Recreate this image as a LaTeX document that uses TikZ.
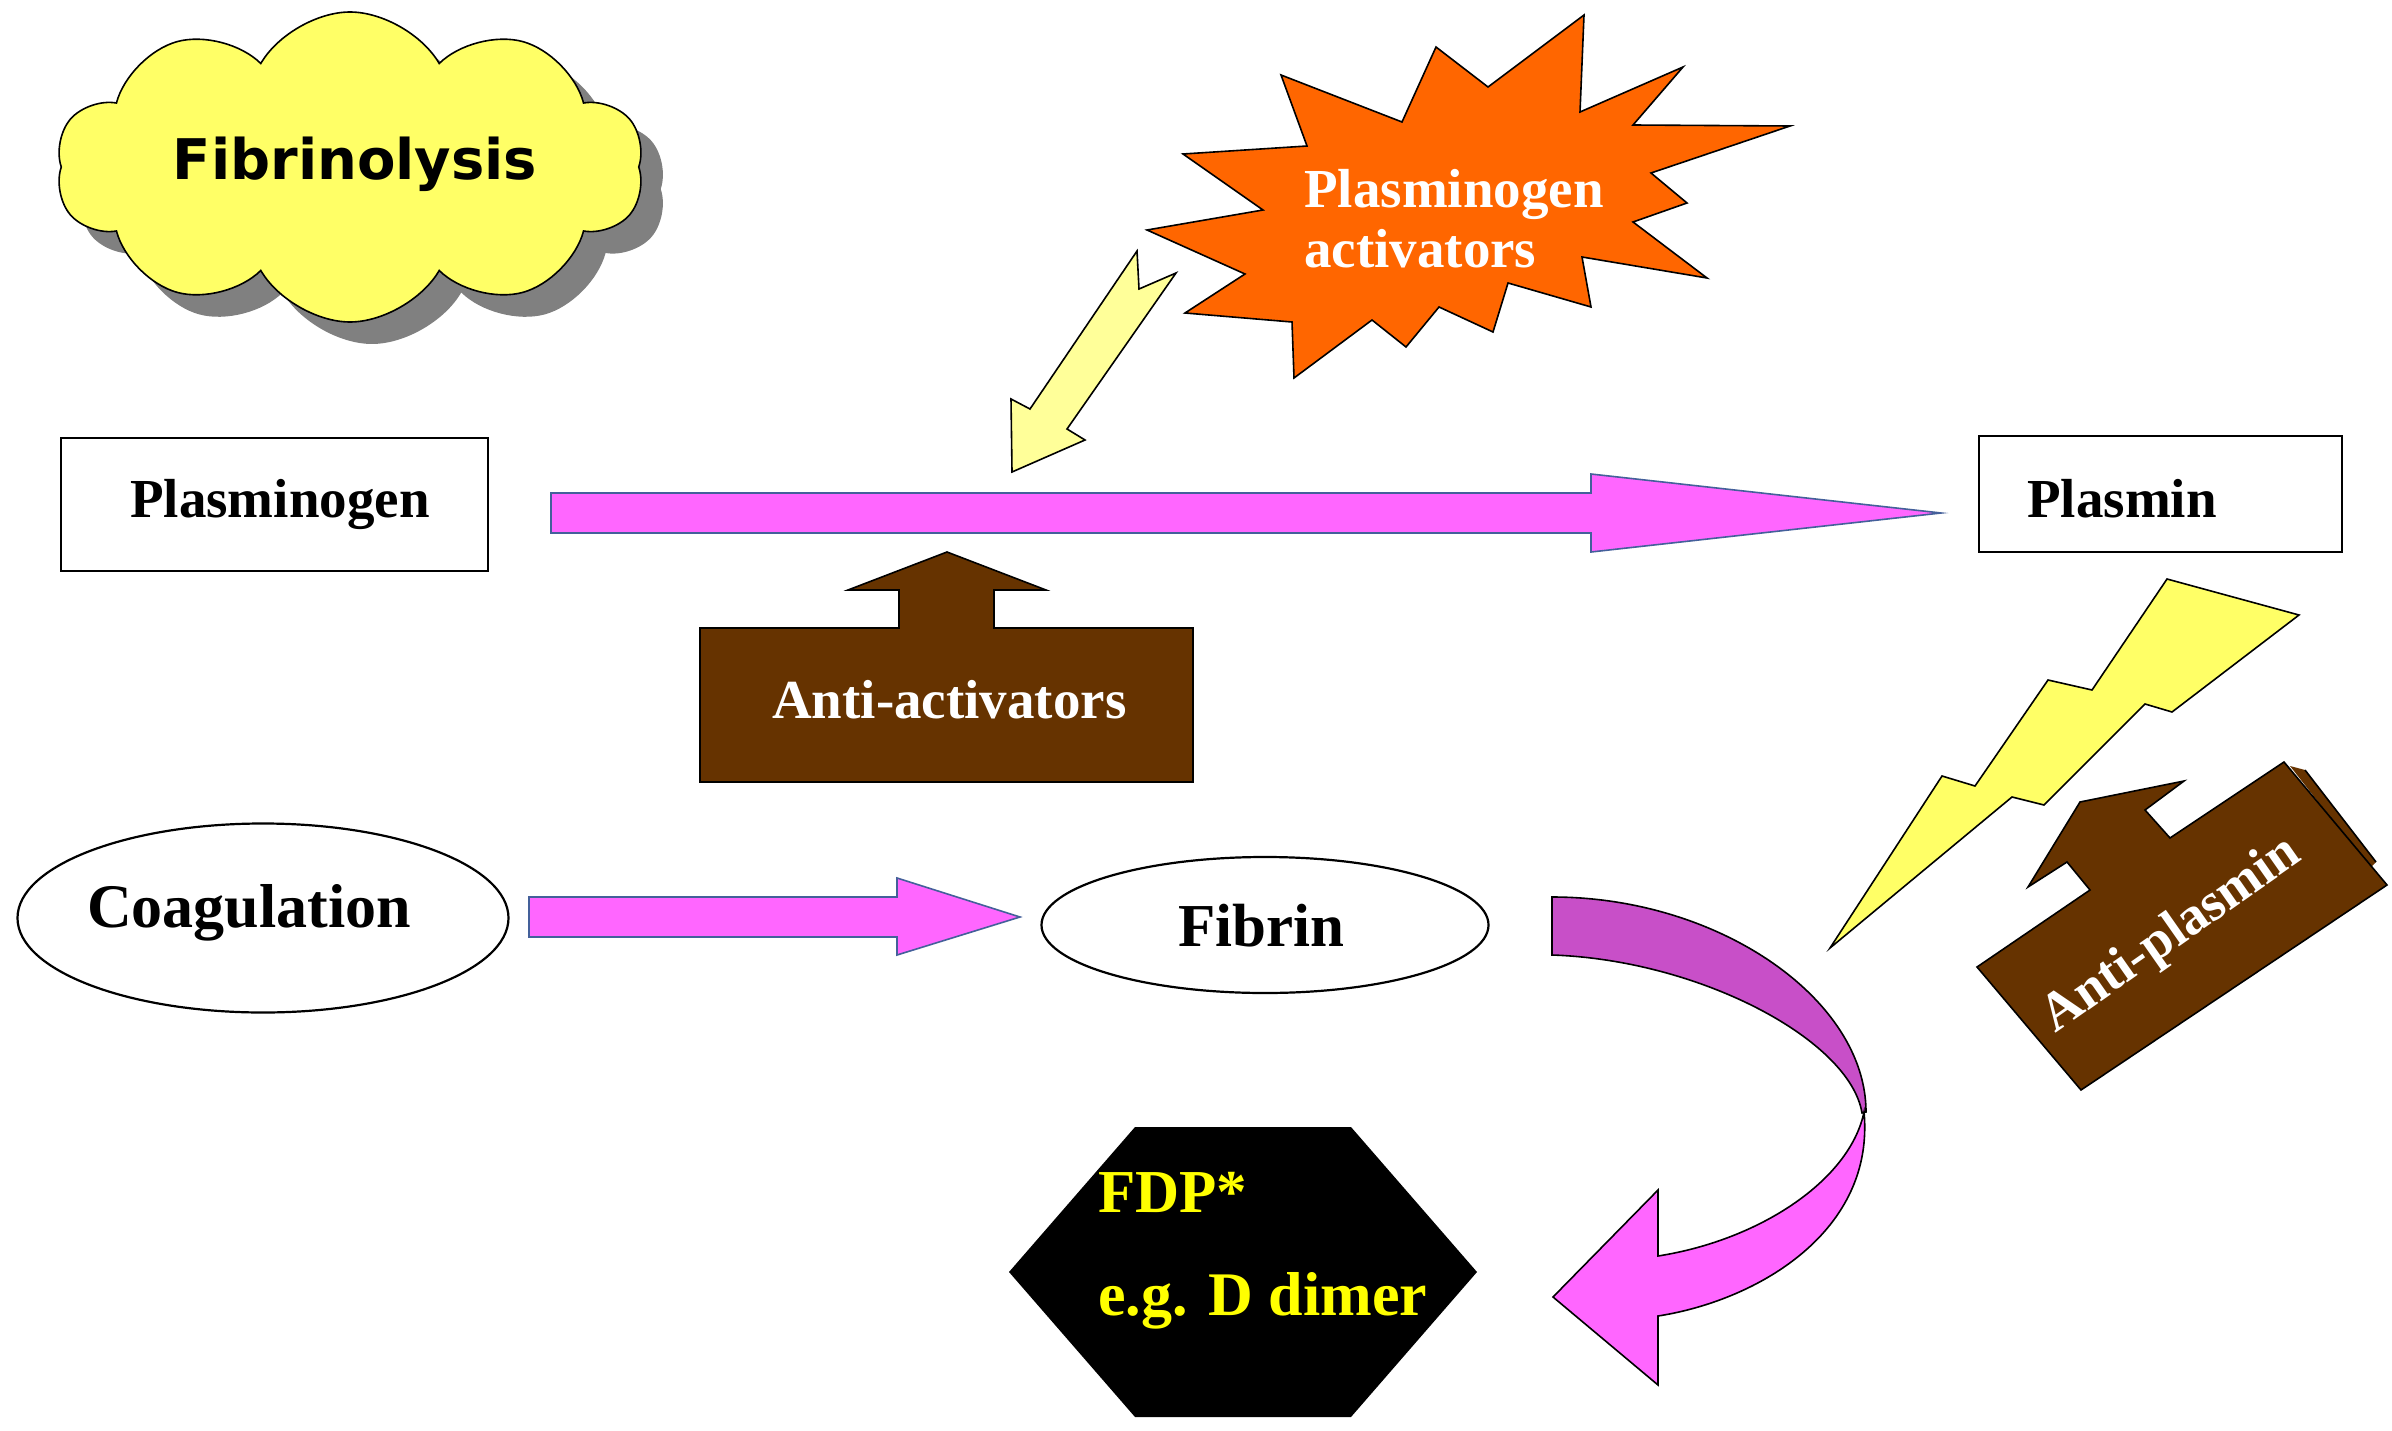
\documentclass[tikz,border=0pt]{standalone}
\usepackage{fontspec}
\setmainfont{Liberation Serif}
\newfontfamily\verdfont{DejaVu Sans}
\usetikzlibrary{shapes.symbols,shapes.geometric}
\definecolor{magarrow}{HTML}{FF66FF}
\definecolor{magedge}{HTML}{44609A}
\definecolor{darkmag}{HTML}{C84FC8}
\definecolor{brownfill}{HTML}{663300}
\definecolor{orangefill}{HTML}{FF6600}
\definecolor{paleyel}{HTML}{FFFF99}
\definecolor{boltyel}{HTML}{FFFF66}
\definecolor{cloudyel}{HTML}{FFFF66}
\definecolor{shadowgray}{HTML}{808080}
\definecolor{fdpyel}{HTML}{FFFF00}
\tikzset{
  shapeline/.style={draw=black, line width=1.6pt, line join=miter},
  blockarrow/.style={fill=magarrow, draw=magedge, line width=1.6pt, line join=miter},
  outlinebox/.style={draw=black, line width=2.2pt, inner sep=0pt},
  lbl/.style={font=\bfseries\fontsize{55}{60}\selectfont, inner sep=0pt, anchor=base west},
  cloudshape/.style={cloud, cloud puffs=10, cloud puff arc=120, aspect=1.9, minimum width=588pt, minimum height=310pt, inner sep=0pt},
}
\begin{document}
\begin{tikzpicture}[x=1pt,y=-1pt]
\useasboundingbox[fill=white] (0,0) rectangle (2392,1431);

% cloud
\node[cloudshape, fill=shadowgray] (cloudshadow) at (372,189) {};
\node[cloudshape, fill=cloudyel, draw=black, line width=1.6pt] (cloud) at (350,167) {};
\node[font=\verdfont\bfseries\fontsize{56}{60}\selectfont, inner sep=0pt, anchor=base] (fibtitle) at (355,180) {Fibrinolysis};

% star
\draw[shapeline, fill=orangefill] (1584,15) -- (1488,87) -- (1436,47) -- (1402,122) -- (1281,75) -- (1307,146) -- (1183,154) -- (1263,210) -- (1147,230) -- (1245,274) -- (1185,313) -- (1292,322) -- (1294,378) -- (1372,320) -- (1406,347) -- (1439,307) -- (1493,332) -- (1508,283) -- (1591,307) -- (1582,257) -- (1707,278) -- (1633,222) -- (1687,203) -- (1651,173) -- (1790,126) -- (1633,125) -- (1683,67) -- (1580,112) -- cycle;
\node[lbl, text=white] (pa1) at (1304,208) {Plasminogen};
\node[lbl, text=white] (pa2) at (1304,268) {activators};

% yellow arrow from activators
\draw[shapeline, fill=paleyel] (1137,251) -- (1139,289) -- (1176,273) -- (1067,429) -- (1085,440) -- (1012,472) -- (1011,399) -- (1030,409) -- cycle;

% boxes
\node[outlinebox, minimum width=427pt, minimum height=133pt] (plgbox) at (274.5,504.5) {};
\node[lbl] (plg) at (130,517) {Plasminogen};
\node[outlinebox, minimum width=363pt, minimum height=116pt] (plbox) at (2160.5,494) {};
\node[lbl] (pl) at (2027,517) {Plasmin};

% main arrow
\draw[blockarrow] (551,493) -- (1591,493) -- (1591,474) -- (1941,513) -- (1591,552) -- (1591,533) -- (551,533) -- cycle;

% anti-activators
\draw[shapeline, fill=brownfill] (700,628) -- (899,628) -- (899,590) -- (848,590) -- (947,552) -- (1046,590) -- (994,590) -- (994,628) -- (1193,628) -- (1193,782) -- (700,782) -- cycle;
\node[lbl, text=white] (antiact) at (772,718) {Anti-activators};

% coagulation / fibrin
\node[ellipse, outlinebox, minimum width=491pt, minimum height=189pt] (coag) at (263,918) {};
\node[lbl, font=\bfseries\fontsize{62}{66}\selectfont] (coagt) at (87,927) {Coagulation};
\draw[blockarrow] (529,897) -- (897,897) -- (897,878) -- (1020,917) -- (897,955) -- (897,937) -- (529,937) -- cycle;
\node[ellipse, outlinebox, minimum width=447pt, minimum height=136pt] (fib) at (1265,925) {};
\node[lbl, font=\bfseries\fontsize{61}{66}\selectfont] (fibt) at (1178,946) {Fibrin};

% FDP hexagon
\fill[black] (1135,1127) -- (1351,1127) -- (1477,1272) -- (1351,1417) -- (1135,1417) -- (1009,1272) -- cycle;
\node[lbl, text=fdpyel, font=\bfseries\fontsize{61}{66}\selectfont] (fdp1) at (1098,1212) {FDP*};
\node[lbl, text=fdpyel, font=\bfseries\fontsize{62}{66}\selectfont] (fdp2) at (1098,1315) {e.g. D dimer};

% curved arrow
\draw[shapeline, fill=darkmag] (1552,897) .. controls (1720,897) and (1866,1000) .. (1866,1112)
   -- (1862,1113) .. controls (1850,1040) and (1700,960) .. (1552,955) -- cycle;
\draw[shapeline, fill=magarrow] (1864,1112) .. controls (1875,1230) and (1760,1300) .. (1658,1316)
   -- (1658,1385) -- (1553,1297) -- (1658,1190) -- (1658,1256)
   .. controls (1760,1240) and (1850,1180) .. (1864,1112) -- cycle;

% lightning bolt
\draw[shapeline, fill=boltyel] (2167,579) -- (2299,615) -- (2172,712) -- (2145,704) -- (2044,805) -- (2012,797) -- (1830,948) -- (1942,776) -- (1975,786) -- (2048,680) -- (2092,690) -- cycle;

% anti-plasmin
\fill[brownfill] (2290,766) -- (2305,770) -- (2376,862) -- (2370,868) -- cycle;
\draw[black, line width=1.6pt] (2305,770) -- (2376,862);
\draw[shapeline, fill=brownfill] (1977,967) -- (2090,890) -- (2067,862) -- (2028,887) -- (2080,802) -- (2184,781) -- (2145,810) -- (2170,838) -- (2284,762) -- (2387,885) -- (2081,1090) -- cycle;
\node[font=\bfseries\fontsize{54}{60}\selectfont, text=white, inner sep=0pt, rotate=35] (antipl) at (2172,936) {Anti-plasmin};
\end{tikzpicture}
\end{document}
